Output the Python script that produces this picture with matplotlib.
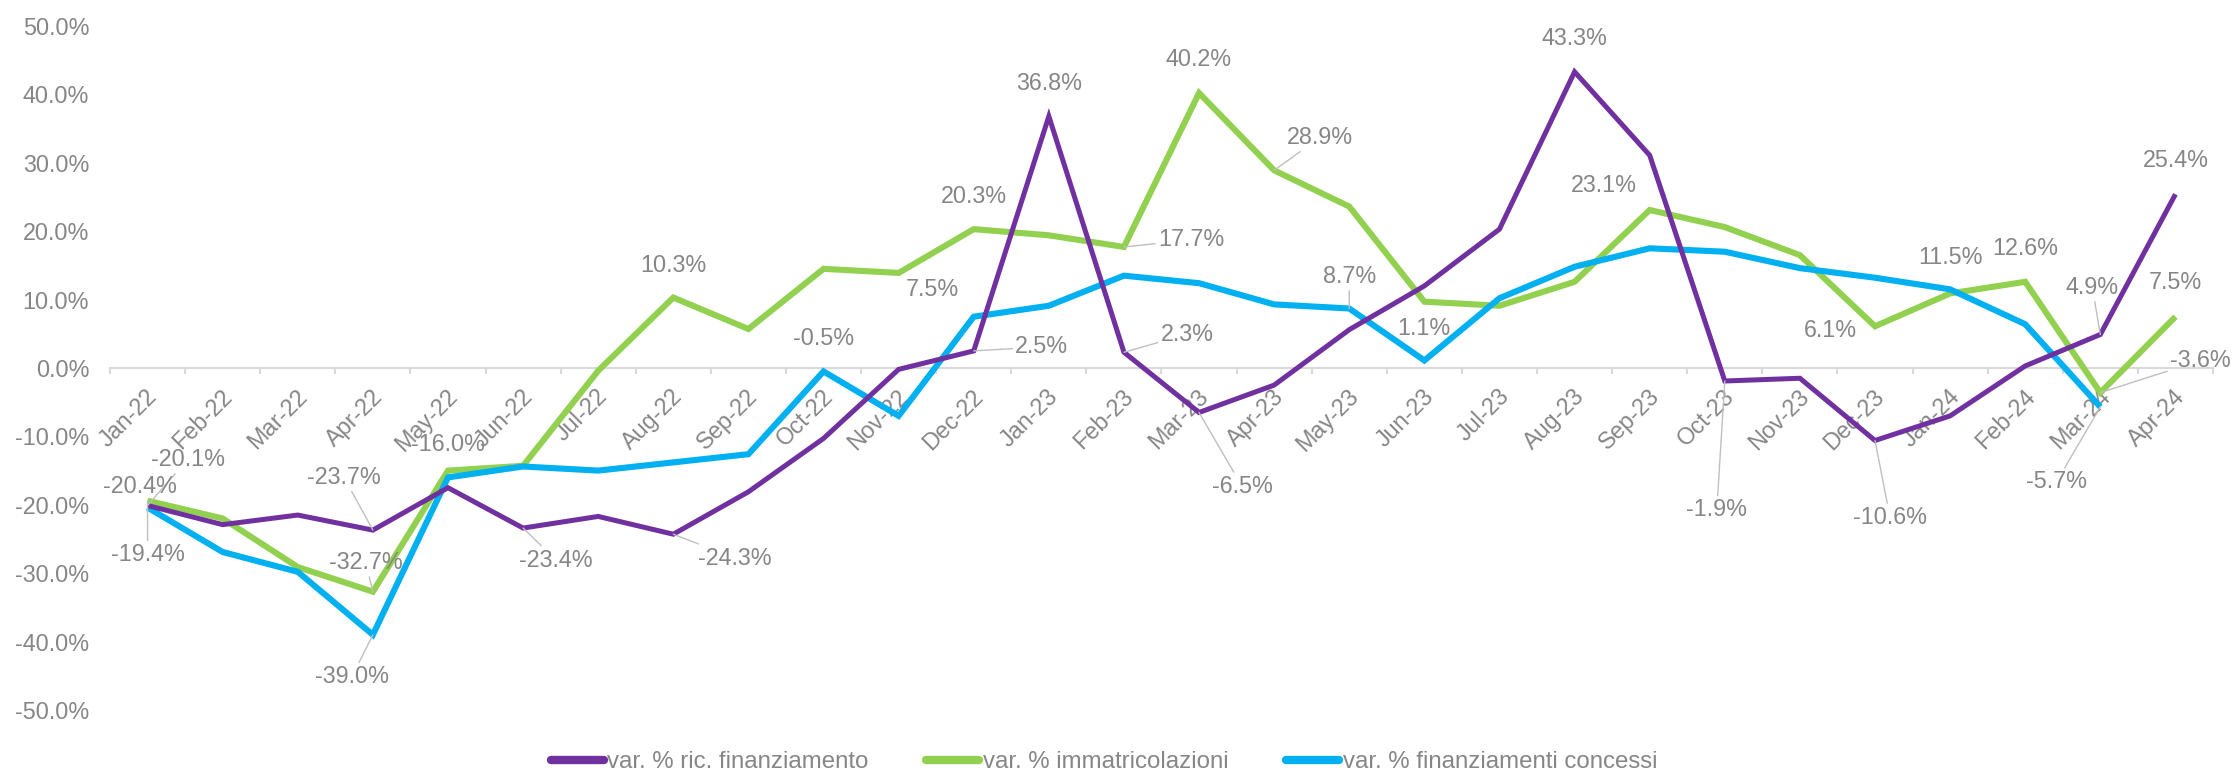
import matplotlib
matplotlib.use('Agg')
import matplotlib.pyplot as plt
import matplotlib.transforms as mtransforms
import numpy as np

plt.rcParams['font.family'] = ['Liberation Sans', 'DejaVu Sans']

# ---------------- data ----------------
months = ['Jan-22', 'Feb-22', 'Mar-22', 'Apr-22', 'May-22', 'Jun-22', 'Jul-22',
          'Aug-22', 'Sep-22', 'Oct-22', 'Nov-22', 'Dec-22',
          'Jan-23', 'Feb-23', 'Mar-23', 'Apr-23', 'May-23', 'Jun-23', 'Jul-23',
          'Aug-23', 'Sep-23', 'Oct-23', 'Nov-23', 'Dec-23',
          'Jan-24', 'Feb-24', 'Mar-24', 'Apr-24']

ric_finanziamento = [-20.1, -22.9, -21.5, -23.7, -17.5, -23.4, -21.7, -24.3,
                     -18.1, -10.3, -0.2, 2.5, 36.8, 2.3, -6.5, -2.5, 5.6, 12.0,
                     20.3, 43.3, 31.1, -1.9, -1.5, -10.6, -7.0, 0.3, 4.9, 25.4]

immatricolazioni = [-19.4, -22.0, -29.1, -32.7, -15.0, -14.3, -0.4, 10.3,
                    5.7, 14.5, 13.9, 20.3, 19.4, 17.7, 40.2, 28.9, 23.6, 9.7,
                    9.1, 12.6, 23.1, 20.6, 16.5, 6.1, 10.9, 12.6, -3.6, 7.5]

finanziamenti_concessi = [-20.4, -26.9, -29.8, -39.0, -16.0, -14.4, -15.0, -13.8,
                          -12.6, -0.5, -7.0, 7.5, 9.1, 13.5, 12.4, 9.3, 8.7, 1.1,
                          10.2, 14.8, 17.5, 17.0, 14.6, 13.2, 11.5, 6.4, -5.7, np.nan]

series_names = ['var. % ric. finanziamento', 'var. % immatricolazioni',
                'var. % finanziamenti concessi']

y_ticks = [-50, -40, -30, -20, -10, 0, 10, 20, 30, 40, 50]

# ---------------- styles ----------------
colors = ['#7030A0', '#92D050', '#00B0F0']
widths = [3.6, 4.4, 4.4]
zorders = [3.0, 2.0, 2.2]
text_color = '#868686'
leader_color = '#bfbfbf'
fs = 16.8

# data-label placement: (index, dx px, dy px, leader line)
label_pos = [
    [(0, 40, 46, True), (3, -29, 53, True), (5, 33, -32, True), (7, 62, -24, True),
     (11, 68, 4, True), (12, 0, 33, False), (13, 63, 18, True), (14, 43, -74, True),
     (19, 0, 33, False), (21, -8, -129, True), (23, 15, -77, True),
     (26, -8, 47, True), (27, 0, 34, False)],
    [(0, 0, -54, True), (3, -7, 29, True), (7, 0, 32, False), (11, 0, 33, False),
     (13, 67, 7, True), (14, 0, 34, False), (15, 46, 33, True), (20, -46, 24, False),
     (23, -45, -4, False), (25, 0, 33, False), (26, 100, 32, True), (27, 0, 34, False)],
    [(0, -8, 21, False), (3, -21, -42, True), (4, 0, 33, False), (9, 0, 33, False),
     (11, -41, 27, False), (16, 0, 32, True), (17, 0, 32, False), (24, 0, 32, False),
     (26, -44, -75, True)],
]

W, H = 2237, 771
fig = plt.figure(figsize=(W / 100, H / 100), dpi=100)
ax = fig.add_axes([110 / W, (H - 710) / H, (2213 - 110) / W, (710 - 26) / H])

x = np.arange(len(months))
all_series = [ric_finanziamento, immatricolazioni, finanziamenti_concessi]
for vals, name, c, lw, z in zip(all_series, series_names, colors, widths, zorders):
    ax.plot(x, vals, color=c, lw=lw, label=name, solid_joinstyle='miter',
            solid_capstyle='butt', zorder=z)

for vals, specs in zip(all_series, label_pos):
    for idx, dx, dy, leader in specs:
        v = vals[idx]
        kw = {}
        if leader:
            kw['arrowprops'] = dict(arrowstyle='-', color=leader_color, lw=1.0,
                                    shrinkA=0, shrinkB=0)
        ax.annotate(f'{v:.1f}%', xy=(idx, v), xytext=(dx, dy),
                    textcoords='offset pixels', ha='center', va='center',
                    fontsize=fs, color=text_color, zorder=5, **kw)

ax.set_xlim(-0.5, len(months) - 0.5)
ax.set_ylim(-50, 50)

for s in ['top', 'right', 'left']:
    ax.spines[s].set_visible(False)
ax.spines['bottom'].set_position(('data', 0))
ax.spines['bottom'].set_color('#d9d9d9')
ax.spines['bottom'].set_linewidth(1.5)
ax.spines['bottom'].set_zorder(1)

ax.set_yticks(y_ticks)
ax.set_yticklabels([f'{t:.1f}%' for t in y_ticks])
ax.tick_params(axis='y', length=0, pad=15, labelsize=fs, labelcolor=text_color)

ax.set_xticks(x)
ax.set_xticklabels(months)
ax.set_xticks(np.arange(len(months) + 1) - 0.5, minor=True)
ax.tick_params(axis='x', which='major', length=0, pad=18, labelsize=fs,
               labelcolor=text_color)
ax.tick_params(axis='x', which='minor', length=4, width=1.5, color='#d9d9d9',
               direction='out')
offset = mtransforms.ScaledTranslation(6 / 100, 0, fig.dpi_scale_trans)
for lab in ax.get_xticklabels():
    lab.set_rotation(45)
    lab.set_ha('right')
    lab.set_va('center')
    lab.set_rotation_mode('anchor')
    lab.set_transform(lab.get_transform() + offset)

handles, labels = ax.get_legend_handles_labels()
leg = fig.legend(handles, labels, loc='center', bbox_to_anchor=(1104 / W, 1 - 762 / H),
                 ncol=3, frameon=False, fontsize=fs + 0.5, handlelength=2.2,
                 handletextpad=0.15, columnspacing=2.4, labelcolor=text_color)
for ln in leg.get_lines():
    ln.set_linewidth(6)
    ln.set_solid_capstyle('round')

fig.savefig('out.png', dpi=100)
